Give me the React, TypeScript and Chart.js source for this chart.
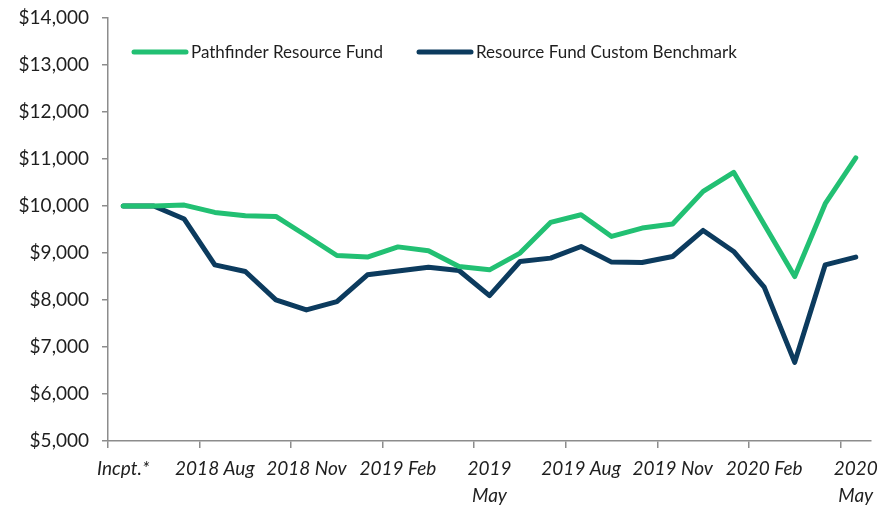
import React, { useEffect, useRef } from "react";
import { Chart, registerables } from "chart.js";

Chart.register(...registerables);

const categories: (string | string[])[] = [
  "Incpt.*", "2018 Jun", "2018 Jul", "2018 Aug", "2018 Sep", "2018 Oct", "2018 Nov",
  "2018 Dec", "2019 Jan", "2019 Feb", "2019 Mar", "2019 Apr", ["2019", "May"],
  "2019 Jun", "2019 Jul", "2019 Aug", "2019 Sep", "2019 Oct", "2019 Nov",
  "2019 Dec", "2020 Jan", "2020 Feb", "2020 Mar", "2020 Apr", ["2020", "May"],
];

const fundValues = [
  10000, 10000, 10020, 9864, 9793, 9778, 9367, 8947, 8913, 9130,
  9047, 8712, 8642, 8998, 9650, 9814, 9352, 9531, 9616, 10311,
  10716, 9608, 8499, 10049, 11023,
];

const benchmarkValues = [
  10000, 10000, 9723, 8748, 8606, 8002, 7789, 7966, 8535, 8615,
  8699, 8627, 8094, 8819, 8891, 9139, 8806, 8797, 8925, 9480,
  9032, 8273, 6674, 8748, 8913,
];

const seriesNames = ["Pathfinder Resource Fund", "Resource Fund Custom Benchmark"];
const seriesColors = ["#22C073", "#0C3B5E"];

const yMin = 5000;
const yMax = 14000;
const yStep = 1000;
const labelEvery = 3;

const axisColor = "#8C8C8C";
const textColor = "#1E1E1E";
const fontFamily = "Lato, 'Open Sans', sans-serif";

const legendPlugin = {
  id: "insideLegend",
  afterDatasetsDraw(chart: any) {
    const { ctx, chartArea } = chart;
    const offsets = [24, 309];
    const y = chartArea.top + 34;
    ctx.save();
    ctx.font = `17px ${fontFamily}`;
    ctx.textBaseline = "middle";
    ctx.textAlign = "left";
    chart.data.datasets.forEach((ds: any, i: number) => {
      const x0 = chartArea.left + offsets[i];
      ctx.strokeStyle = ds.borderColor;
      ctx.lineWidth = 5;
      ctx.lineCap = "round";
      ctx.beginPath();
      ctx.moveTo(x0 + 2, y);
      ctx.lineTo(x0 + 54, y);
      ctx.stroke();
      ctx.fillStyle = textColor;
      ctx.fillText(ds.label, x0 + 59, y + 1);
    });
    ctx.restore();
  },
};

export default function App() {
  const canvasRef = useRef<HTMLCanvasElement | null>(null);

  useEffect(() => {
    if (!canvasRef.current) return;
    const chart = new Chart(canvasRef.current, {
      type: "line",
      data: {
        labels: categories,
        datasets: [
          {
            label: seriesNames[0],
            data: fundValues,
            borderColor: seriesColors[0],
            backgroundColor: seriesColors[0],
            borderWidth: 5,
            pointRadius: 0,
            borderCapStyle: "round",
            borderJoinStyle: "round",
            tension: 0,
          },
          {
            label: seriesNames[1],
            data: benchmarkValues,
            borderColor: seriesColors[1],
            backgroundColor: seriesColors[1],
            borderWidth: 5,
            pointRadius: 0,
            borderCapStyle: "round",
            borderJoinStyle: "round",
            tension: 0,
          },
        ],
      },
      options: {
        animation: false,
        responsive: true,
        maintainAspectRatio: false,
        layout: { padding: { top: 18, right: 10, left: 0, bottom: 0 } },
        plugins: {
          legend: { display: false },
          tooltip: { enabled: false },
        },
        scales: {
          x: {
            type: "category",
            offset: true,
            afterFit: (scale: any) => {
              scale.height = 69;
            },
            grid: {
              display: true,
              offset: true,
              drawOnChartArea: false,
              drawTicks: true,
              tickLength: 7,
              lineWidth: 1.5,
              color: (ctx: any) => (ctx.index % labelEvery === 0 ? axisColor : "rgba(0,0,0,0)"),
            },
            border: { display: true, color: axisColor, width: 1.5 },
            ticks: {
              autoSkip: false,
              maxRotation: 0,
              minRotation: 0,
              padding: 8,
              color: textColor,
              font: { family: fontFamily, size: 19, style: "italic", lineHeight: 1.4 },
              callback: function (this: any, _v: any, index: number) {
                return index % labelEvery === 0 ? categories[index] : "";
              },
            },
          },
          y: {
            min: yMin,
            max: yMax,
            afterFit: (scale: any) => {
              scale.width = 108;
              scale.paddingTop = 0;
              scale.paddingBottom = 0;
            },
            grid: {
              display: true,
              drawOnChartArea: false,
              drawTicks: true,
              tickLength: 6,
              lineWidth: 1.5,
              color: axisColor,
            },
            border: { display: true, color: axisColor, width: 1.5 },
            ticks: {
              stepSize: yStep,
              padding: 13,
              color: textColor,
              font: { family: fontFamily, size: 19 },
              callback: (v: any) => "$" + Number(v).toLocaleString("en-US"),
            },
          },
        },
      },
      plugins: [legendPlugin],
    });
    return () => chart.destroy();
  }, []);

  return (
    <div style={{ position: "fixed", left: 0, top: 0, width: 886, height: 510, background: "#fff" }}>
      <canvas ref={canvasRef} />
    </div>
  );
}
